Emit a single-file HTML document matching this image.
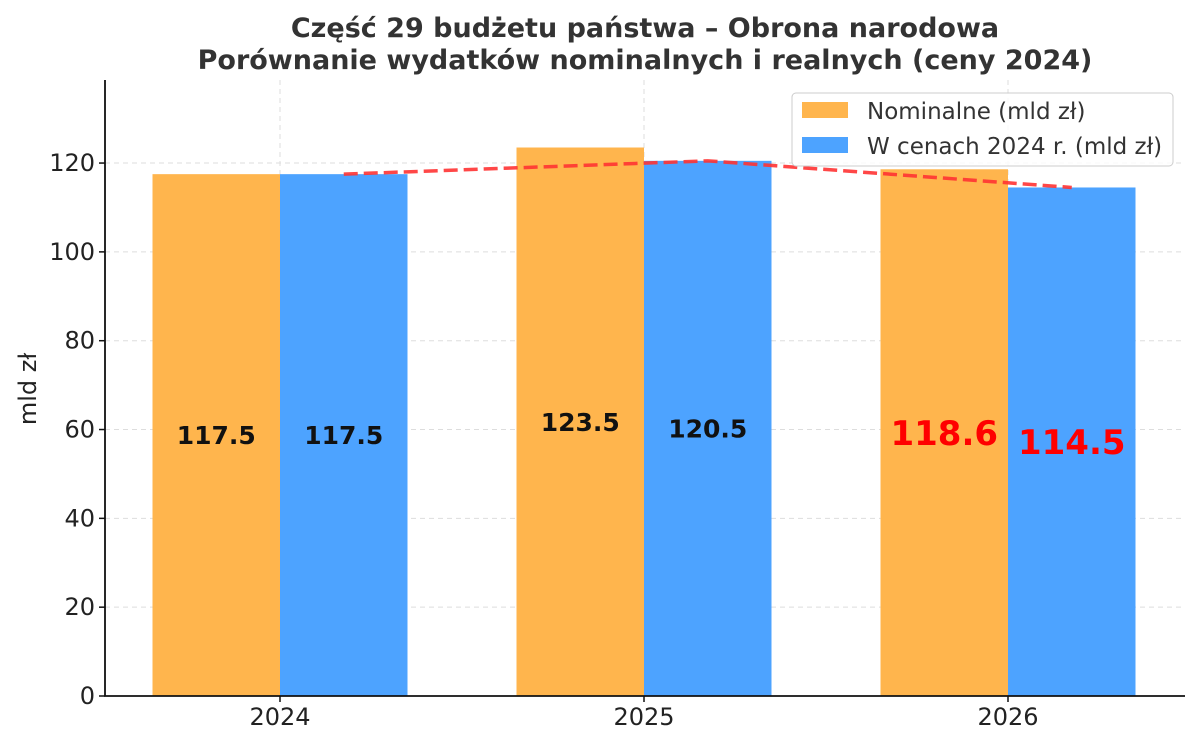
<!DOCTYPE html>
<html><head><meta charset="utf-8"><style>
body{margin:0;background:#fff}
svg{display:block;font-family:"DejaVu Sans","Liberation Sans",sans-serif}
</style></head><body>
<svg id="chart" width="1200" height="744" viewBox="0 0 1200 744">
<text x="645" y="37" text-anchor="middle" font-size="27" font-weight="bold" fill="#333">Część 29 budżetu państwa – Obrona narodowa</text>
<text x="645" y="69" text-anchor="middle" font-size="27" font-weight="bold" fill="#333">Porównanie wydatków nominalnych i realnych (ceny 2024)</text>
<g id="grid"></g><g id="bars"></g><g id="line"></g><g id="labels"></g><g id="axes"></g>
<text transform="translate(36,389) rotate(-90)" text-anchor="middle" font-size="24" fill="#222">mld zł</text>
<g>
<rect x="792" y="93" width="381" height="73" rx="4" fill="#fff" fill-opacity="0.85" stroke="#ccc"/>
<rect x="802" y="102" width="46" height="16" fill="#FFB54D"/>
<text x="867" y="119" font-size="23" fill="#333">Nominalne (mld zł)</text>
<rect x="802" y="137" width="46" height="16" fill="#4DA3FF"/>
<text x="867" y="154" font-size="23" fill="#333">W cenach 2024 r. (mld zł)</text>
</g>
</svg>
<script>
const categories = ["2024","2025","2026"];
const nominal = [117.5,123.5,118.6];
const real = [117.5,120.5,114.5];
const yTicks = [0,20,40,60,80,100,120];
const NS="http://www.w3.org/2000/svg";
const x0=105,x1=1185,yBase=696,yTop=80,yMax=138.7;
const y=v=>yBase-(v/yMax)*(yBase-yTop);
const xc=i=>280+i*364;
const bw=127.5;
function mk(tag,attrs,parent,text){const e=document.createElementNS(NS,tag);for(const k in attrs)e.setAttribute(k,attrs[k]);if(text!==undefined)e.textContent=text;document.getElementById(parent).appendChild(e);return e;}
yTicks.forEach(t=>{
  if(t>0){const g=mk("line",{x1:x0,x2:x1,y1:y(t),y2:y(t),stroke:"#ddd","stroke-dasharray":"5,4"},"grid");
  
  }
  const tk=mk("line",{x1:x0-6,x2:x0,y1:y(t),y2:y(t),stroke:"#111","stroke-width":1.5},"axes");
  
  
  const tl=mk("text",{x:x0-10,y:y(t)+8,"text-anchor":"end","font-size":24,fill:"#222"},"axes",t);
  
  
});
categories.forEach((c,i)=>{
  const g=mk("line",{x1:xc(i),x2:xc(i),y1:yTop,y2:yBase,stroke:"#ddd","stroke-dasharray":"5,4"},"grid");
  
  
  const b1=mk("rect",{x:xc(i)-bw,y:y(nominal[i]),width:bw,height:yBase-y(nominal[i]),fill:"#FFB54D"},"bars");
  
  
  const b2=mk("rect",{x:xc(i),y:y(real[i]),width:bw,height:yBase-y(real[i]),fill:"#4DA3FF"},"bars");
  
  
  const last=i===categories.length-1;
  const fs=last?34:25,col=last?"#f00":"#111";
  const l1=mk("text",{x:xc(i)-bw/2,y:y(nominal[i]/2)+fs*0.36,"text-anchor":"middle","font-size":fs,"font-weight":"bold",fill:col},"labels",nominal[i].toFixed(1));
  
  
  const l2=mk("text",{x:xc(i)+bw/2,y:y(real[i]/2)+fs*0.36,"text-anchor":"middle","font-size":fs,"font-weight":"bold",fill:col},"labels",real[i].toFixed(1));
  
  
  const tk=mk("line",{x1:xc(i),x2:xc(i),y1:yBase,y2:yBase+6,stroke:"#111","stroke-width":1.5},"axes");
  
  
  const tl=mk("text",{x:xc(i),y:yBase+29,"text-anchor":"middle","font-size":24,fill:"#222"},"axes",c);
  
  
});
const pl=mk("polyline",{points:real.map((v,i)=>(xc(i)+bw/2)+","+y(v)).join(" "),fill:"none",stroke:"#f33","stroke-opacity":0.9,"stroke-width":3.5,"stroke-dasharray":"14,6"},"line");


const ax=mk("path",{d:`M${x0},${yTop}V${yBase}H${x1}`,fill:"none",stroke:"#111","stroke-width":1.8},"axes");


</script>
</body></html>
